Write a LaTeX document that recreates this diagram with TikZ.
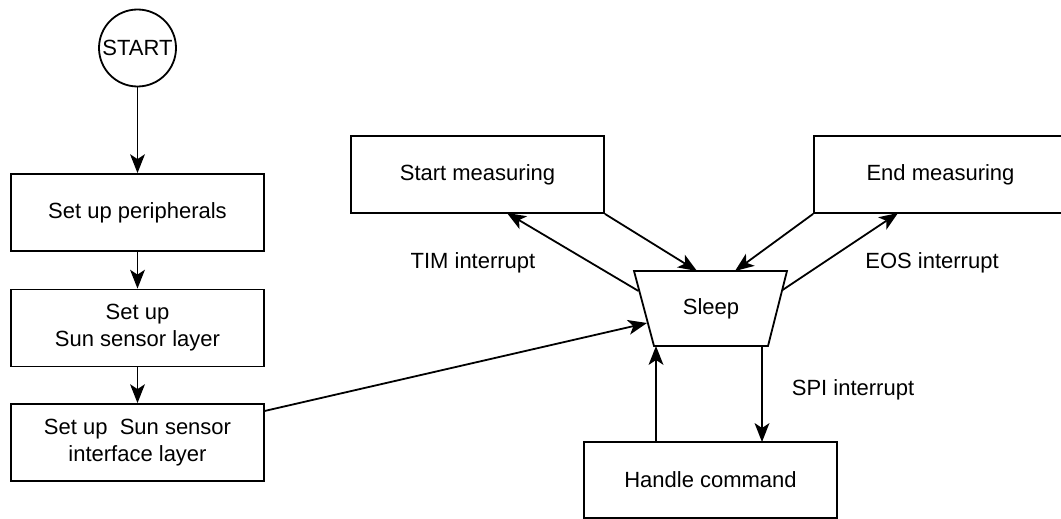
\documentclass[tikz,border=0pt]{standalone}
\usepackage{fontspec}
\setmainfont{Liberation Sans}
\usetikzlibrary{arrows.meta}

\begin{document}
\begin{tikzpicture}[x=1pt,y=-1pt,
  every node/.style={font=\fontsize{22}{27}\selectfont},
  box/.style={draw,line width=1.8pt,minimum width=253pt,minimum height=77pt,
    inner sep=0pt,align=center},
  link/.style={line width=1.8pt,
    -{Stealth[length=19pt,width=15pt,inset=5pt,line width=0pt]}},
  lbl/.style={inner sep=0pt}]
\useasboundingbox (0,0) rectangle (1061,519);

% start terminal
\node[circle,draw,line width=1.8pt,minimum size=77pt,inner sep=0pt]
  (start) at (137.5,48) {\makebox[0pt]{START}};

% initialisation chain
\node[box] (periph) at (137.5,212.5) {Set up peripherals};
\node[box] (sunlayer) at (137.5,328) {Set up\\Sun sensor layer};
\node[box] (iflayer) at (137.5,442.5) {Set up\ \ Sun sensor\\interface layer};

% main loop states
\node[box] (smeas) at (477.5,174.5) {Start measuring};
\node[box] (emeas) at (940.5,174.5) {End measuring};
\node[box,minimum height=76pt] (handle) at (710.5,480) {Handle command};

% sleep state (trapezium, wider on top)
\coordinate (sltl) at (634,271);
\coordinate (sltr) at (787,271);
\coordinate (slbr) at (768,346);
\coordinate (slbl) at (654,346);
\draw[line width=1.8pt,line join=miter] (sltl) -- (sltr) -- (slbr) -- (slbl) -- cycle;
\node (sleep) at (711,309) {Sleep};

% attachment points on the sleep state and the boxes
\coordinate (slinA) at (697,271);
\coordinate (slinB) at (735,271);
\coordinate (sltim) at (638.5,291);
\coordinate (sleos) at (782.5,290);
\coordinate (slinit) at (647,323);
\coordinate (slup) at (656,346);
\coordinate (sldown) at (762,346);
\coordinate (timend) at (507,213);
\coordinate (eosend) at (898,213);
\coordinate (ifout) at (264.5,411);
\coordinate (hdup) at (656,442);
\coordinate (hddown) at (762,442);

% connectors
\draw[link] (start) -- (periph);
\draw[link] (periph) -- (sunlayer);
\draw[link] (sunlayer) -- (iflayer);
\draw[link] (ifout) -- (slinit);
\draw[link] (smeas.south east) -- (slinA);
\draw[link] (emeas.south west) -- (slinB);
\draw[link] (sltim) -- (timend);
\draw[link] (sleos) -- (eosend);
\draw[link] (hdup) -- (slup);
\draw[link] (sldown) -- (hddown);

% transition labels
\node[lbl] (tim) at (473,263) {TIM interrupt};
\node[lbl] (eos) at (932,263) {EOS interrupt};
\node[lbl] (spi) at (853,390) {SPI interrupt};
\end{tikzpicture}
\end{document}
